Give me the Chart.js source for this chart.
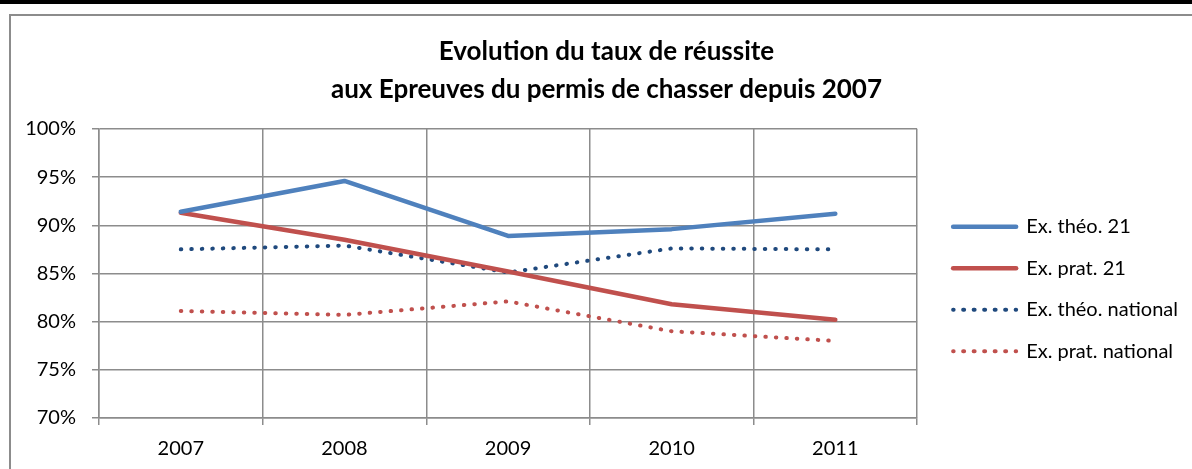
<!DOCTYPE html>
<html>
<head>
<meta charset="utf-8">
<script src="https://cdn.jsdelivr.net/npm/chart.js@4.4.1/dist/chart.umd.min.js"></script>
<style>
    html, body { margin: 0; padding: 0; background: #fff; overflow: hidden; }
    body { width: 1192px; height: 469px; position: relative; border-top: 4px solid #000; box-sizing: border-box; }
    #cadre { position: absolute; left: 9px; top: 10px; width: 1200px; height: 470px; border-top: 2px solid #8c8c8c; border-left: 2px solid #8c8c8c; }
    #zone { position: absolute; left: 11px; top: 16px; width: 1181px; height: 453px; }
</style>
</head>
<body>
<div id="cadre"></div>
<div id="zone"><canvas id="graphique"></canvas></div>
<script>
// Données (taux de réussite en %)
const annees = ['2007', '2008', '2009', '2010', '2011'];
const theo21 = [91.4, 94.6, 88.9, 89.6, 91.2];
const prat21 = [91.3, 88.5, 85.2, 81.8, 80.2];
const theoNational = [87.5, 87.9, 85.1, 87.6, 87.5];
const pratNational = [81.1, 80.7, 82.1, 79.0, 78.0];
const titre = ['Evolution du taux de réussite', 'aux Epreuves du permis de chasser depuis 2007'];

const police = 'Lato, "Open Sans", sans-serif';
const grisGrille = '#8c8c8c';

// décale la légende et le titre sans toucher à la zone de tracé
const decalages = {
    id: 'decalages',
    afterLayout(chart) {
        chart.legend.left += 14.5;
        chart.legend.right += 14.5;
        chart.legend.top += 42.5;
        chart.legend.bottom += 42.5;
        chart.titleBlock.left += 9.25;
        chart.titleBlock.right += 9.25;
    }
};

const serieLigne = (label, data, couleur, pointille) => ({
    label: label,
    data: data,
    borderColor: couleur,
    backgroundColor: couleur,
    borderWidth: pointille ? 4 : 4.5,
    borderDash: pointille ? [0.5, 10] : [],
    borderCapStyle: 'round',
    borderJoinStyle: 'round',
    pointRadius: 0,
    pointHoverRadius: 0,
    tension: 0
});

new Chart(document.getElementById('graphique'), {
    type: 'line',
    data: {
        labels: annees,
        datasets: [
            serieLigne('Ex. théo. 21', theo21, '#4F81BD', false),
            serieLigne('Ex. prat. 21', prat21, '#C0504D', false),
            serieLigne('Ex. théo. national', theoNational, '#1F497D', true),
            serieLigne('Ex. prat. national', pratNational, '#C0504D', true)
        ]
    },
    options: {
        responsive: true,
        maintainAspectRatio: false,
        animation: false,
        layout: { padding: { left: 10, right: 18.5, top: 0, bottom: 0 } },
        scales: {
            x: {
                offset: true,
                grid: { offset: true, color: grisGrille, lineWidth: 1.5, tickLength: 7 },
                border: { color: grisGrille, width: 1.5 },
                ticks: { color: '#000', font: { family: police, size: 20 }, padding: 12, maxRotation: 0 }
            },
            y: {
                min: 70,
                max: 100,
                afterFit: (axe) => { axe.width = 78; },
                grid: { color: grisGrille, lineWidth: 1.5, tickLength: 7 },
                border: { color: grisGrille, width: 1.5 },
                ticks: {
                    stepSize: 5,
                    color: '#000',
                    font: { family: police, size: 20 },
                    padding: 16,
                    callback: (v) => v + '%'
                }
            }
        },
        plugins: {
            title: {
                display: true,
                text: titre,
                color: '#000',
                font: { family: police, size: 26, weight: 'bold', lineHeight: 1.46 },
                padding: { top: 13, bottom: 20 }
            },
            legend: {
                position: 'right',
                labels: {
                    boxWidth: 63,
                    boxHeight: 0.01,
                    padding: 21.5,
                    color: '#000',
                    font: { family: police, size: 20 }
                }
            },
            tooltip: { enabled: false }
        }
    },
    plugins: [decalages]
});
</script>
</body>
</html>
